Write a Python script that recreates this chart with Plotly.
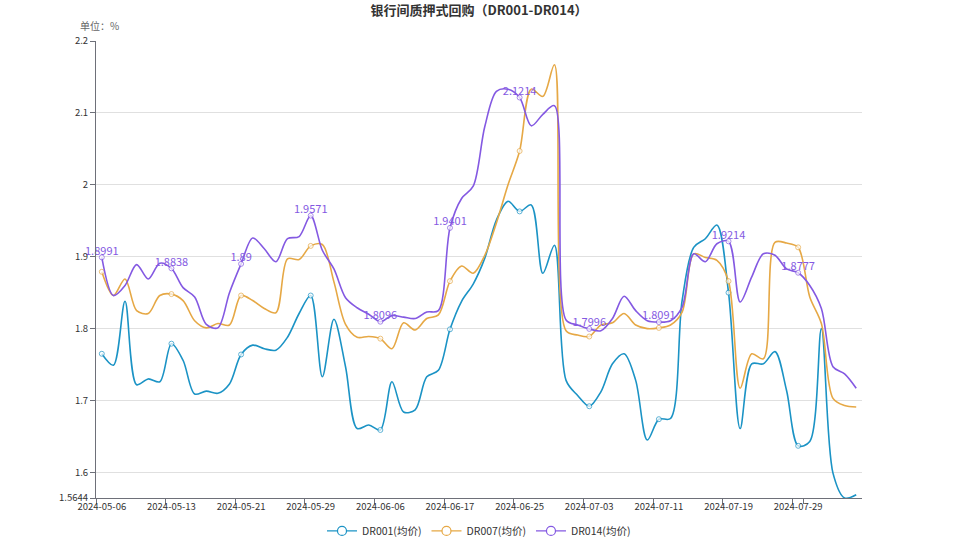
import plotly.graph_objects as go

dates = [
    "2024-05-06", "2024-05-07", "2024-05-08", "2024-05-09", "2024-05-10", "2024-05-11",
    "2024-05-13", "2024-05-14", "2024-05-15", "2024-05-16", "2024-05-17", "2024-05-20",
    "2024-05-21", "2024-05-22", "2024-05-23", "2024-05-24", "2024-05-27", "2024-05-28",
    "2024-05-29", "2024-05-30", "2024-05-31", "2024-06-03", "2024-06-04", "2024-06-05",
    "2024-06-06", "2024-06-07", "2024-06-11", "2024-06-12", "2024-06-13", "2024-06-14",
    "2024-06-17", "2024-06-18", "2024-06-19", "2024-06-20", "2024-06-21", "2024-06-24",
    "2024-06-25", "2024-06-26", "2024-06-27", "2024-06-28", "2024-07-01", "2024-07-02",
    "2024-07-03", "2024-07-04", "2024-07-05", "2024-07-08", "2024-07-09", "2024-07-10",
    "2024-07-11", "2024-07-12", "2024-07-15", "2024-07-16", "2024-07-17", "2024-07-18",
    "2024-07-19", "2024-07-22", "2024-07-23", "2024-07-24", "2024-07-25", "2024-07-26",
    "2024-07-29", "2024-07-30", "2024-07-31", "2024-08-01", "2024-08-02", "2024-08-05",
]

dr001 = [
    1.765, 1.749, 1.838, 1.722, 1.730, 1.726, 1.779, 1.756, 1.709, 1.713, 1.710, 1.723,
    1.764, 1.777, 1.772, 1.770, 1.788, 1.821, 1.846, 1.733, 1.813, 1.747, 1.661, 1.666,
    1.659, 1.726, 1.684, 1.687, 1.733, 1.742, 1.799, 1.838, 1.862, 1.898, 1.951, 1.977,
    1.963, 1.972, 1.877, 1.916, 1.728, 1.707, 1.692, 1.712, 1.751, 1.765, 1.728, 1.645,
    1.674, 1.675, 1.839, 1.913, 1.925, 1.944, 1.850, 1.661, 1.751, 1.751, 1.768, 1.714,
    1.637, 1.643, 1.800, 1.599, 1.5644, 1.569,
]

dr007 = [
    1.879, 1.846, 1.869, 1.825, 1.821, 1.846, 1.848, 1.839, 1.811, 1.801, 1.807, 1.805,
    1.846, 1.839, 1.828, 1.822, 1.897, 1.896, 1.915, 1.917, 1.865, 1.806, 1.788, 1.789,
    1.786, 1.772, 1.808, 1.798, 1.814, 1.819, 1.866, 1.887, 1.877, 1.902, 1.947, 2.000,
    2.047, 2.133, 2.123, 2.167, 1.797, 1.791, 1.789, 1.805, 1.808, 1.821, 1.805, 1.800,
    1.801, 1.805, 1.823, 1.904, 1.899, 1.895, 1.866, 1.717, 1.765, 1.758, 1.920, 1.919,
    1.913, 1.844, 1.807, 1.703, 1.693, 1.691,
]

dr014 = [
    1.8991, 1.846, 1.860, 1.889, 1.869, 1.891, 1.8838, 1.857, 1.844, 1.806, 1.801, 1.850,
    1.8900, 1.926, 1.911, 1.893, 1.925, 1.928, 1.9571, 1.909, 1.883, 1.843, 1.829, 1.820,
    1.8096, 1.818, 1.816, 1.814, 1.823, 1.825, 1.9401, 1.981, 1.998, 2.081, 2.130, 2.133,
    2.1214, 2.082, 2.098, 2.110, 1.812, 1.805, 1.7996, 1.797, 1.814, 1.845, 1.825, 1.811,
    1.8091, 1.811, 1.830, 1.904, 1.893, 1.918, 1.9214, 1.837, 1.872, 1.904, 1.902, 1.883,
    1.8777, 1.860, 1.828, 1.747, 1.737, 1.717,
]

series = [
    ("DR001(均价)", dr001, "#1b93c5"),
    ("DR007(均价)", dr007, "#e6a845"),
    ("DR014(均价)", dr014, "#8459e2"),
]

y_ticks = [1.5644, 1.6, 1.7, 1.8, 1.9, 2.0, 2.1, 2.2]
y_ticktext = ["1.5644", "1.6", "1.7", "1.8", "1.9", "2", "2.1", "2.2"]

step = 6
font_family = "Noto Sans CJK SC, Microsoft YaHei, sans-serif"

fig = go.Figure()
for name, vals, color in series:
    sizes = [5 if i % step == 0 else 0 for i in range(len(vals))]
    fig.add_trace(go.Scatter(
        x=dates, y=vals, name=name, mode="lines+markers",
        line=dict(color=color, width=1.6, shape="spline", smoothing=0.9),
        marker=dict(size=sizes, color="white", line=dict(color=color, width=1)),
        showlegend=False, legendgroup=name, hoverinfo="x+y",
    ))
    fig.add_trace(go.Scatter(
        x=[dates[0]], y=[None], name=name, mode="lines+markers",
        line=dict(color=color, width=1.4),
        marker=dict(size=9, color="white", line=dict(color=color, width=1.2)),
        showlegend=True, legendgroup=name,
    ))

lab_x = [dates[i] for i in range(0, len(dr014), step)]
lab_y = [dr014[i] for i in range(0, len(dr014), step)]
fig.add_trace(go.Scatter(
    x=lab_x, y=lab_y, mode="text", text=[f"{v:g}" for v in lab_y],
    textposition="top center", textfont=dict(color="#8459e2", size=11, family=font_family),
    showlegend=False, hoverinfo="skip", cliponaxis=False,
))

fig.update_layout(
    width=958, height=539,
    margin=dict(l=96, r=96, t=41, b=41, autoexpand=False),
    paper_bgcolor="white", plot_bgcolor="white",
    font=dict(family=font_family, size=11, color="#333"),
    title=dict(text="<b>银行间质押式回购（DR001-DR014）</b>", x=0.5, xanchor="center",
               y=0.99, yanchor="top", font=dict(size=13, color="#333")),
    legend=dict(orientation="h", x=0.5, xanchor="center", y=-0.072, yanchor="middle",
                font=dict(size=10.5, color="#333"), itemwidth=30, tracegroupgap=0,
                bgcolor="rgba(0,0,0,0)"),
    annotations=[dict(text="单位：%", xref="paper", yref="paper", x=-0.0235, y=1.035,
                      xanchor="left", yanchor="middle", showarrow=False,
                      font=dict(size=10, color="#666"))],
    showlegend=True,
)

fig.update_xaxes(
    type="category", categoryorder="array", categoryarray=dates,
    range=[-0.5, len(dates) - 0.5], automargin=False, tickangle=0,
    tickmode="array", tickvals=dates[::step], ticktext=dates[::step],
    tickson="boundaries", ticks="outside", ticklen=5, tickcolor="#6e7079",
    showline=True, linecolor="#6e7079", linewidth=1, showgrid=False, zeroline=False,
    tickfont=dict(size=9.5, color="#333"),
)
fig.update_yaxes(
    range=[1.5644, 2.2], tickmode="array", tickvals=y_ticks, ticktext=y_ticktext,
    automargin=False, ticks="outside", ticklen=5, tickcolor="#6e7079",
    showline=True, linecolor="#6e7079", linewidth=1,
    showgrid=True, gridcolor="#e0e0e0", gridwidth=1, zeroline=False,
    tickfont=dict(size=9.5, color="#333"),
)

fig.write_html("out.html", config={"displayModeBar": False},
               post_script="document.body.style.margin='0';")
